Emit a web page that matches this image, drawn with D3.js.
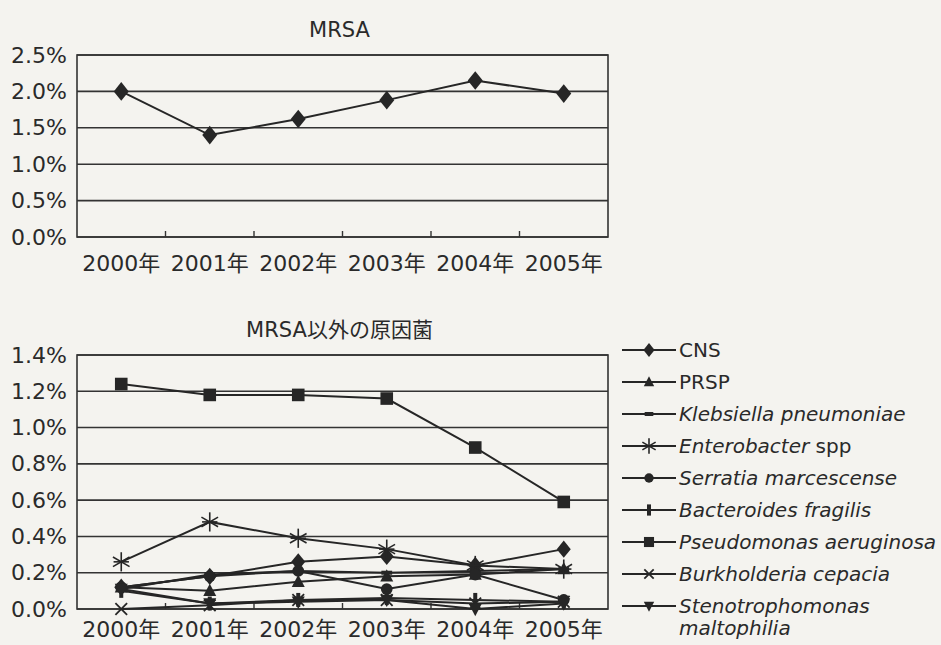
<!DOCTYPE html>
<html>
<head>
<meta charset="utf-8">
<script src="https://cdn.jsdelivr.net/npm/d3@7"></script>
<style>
  body { margin: 0; background: #f4f3ef; }
  text { font-family: "DejaVu Sans", "Noto Sans CJK JP", sans-serif; fill: #2a2a2a; }
</style>
</head>
<body>
<div id="chart"></div>
<script>
// categories
const years = ["2000年", "2001年", "2002年", "2003年", "2004年", "2005年"];

// MRSA (%)
const mrsa = [2.00, 1.40, 1.62, 1.88, 2.15, 1.97];
const mrsaTicks = [0, 0.5, 1.0, 1.5, 2.0, 2.5];

// other pathogens (%)
const cns          = [0.12, 0.18, 0.26, 0.29, 0.24, 0.33];
const prsp         = [0.12, 0.10, 0.15, 0.18, 0.19, 0.22];
const klebsiella   = [0.11, 0.19, 0.21, 0.20, 0.21, 0.22];
const enterobacter = [0.26, 0.48, 0.39, 0.33, 0.24, 0.22];
const serratia     = [0.12, 0.18, 0.21, 0.11, 0.19, 0.05];
const bacteroides  = [0.10, 0.03, 0.05, 0.06, 0.05, 0.04];
const pseudomonas  = [1.24, 1.18, 1.18, 1.16, 0.89, 0.59];
const burkholderia = [0.00, 0.02, 0.05, 0.05, 0.03, 0.04];
const steno        = [0.11, 0.03, 0.04, 0.05, 0.00, 0.03];
const otherTicks = [0, 0.2, 0.4, 0.6, 0.8, 1.0, 1.2, 1.4];

// legend labels: [text, italic?]
const legendLabels = [
    [["CNS", false]],
    [["PRSP", false]],
    [["Klebsiella pneumoniae", true]],
    [["Enterobacter", true], [" spp", false]],
    [["Serratia marcescense", true]],
    [["Bacteroides fragilis", true]],
    [["Pseudomonas aeruginosa", true]],
    [["Burkholderia cepacia", true]],
    [["Stenotrophomonas", true]]
];

const W = 941, H = 645;
const ink = "#262626";

const svg = d3.select("#chart").append("svg")
    .attr("width", W)
    .attr("height", H);

// marker shapes, centred on 0,0
function marker(g, type, s) {
    if (type === "diamond") {
        g.append("path").attr("d", `M0,${-s*0.62}L${s*0.5},0L0,${s*0.62}L${-s*0.5},0Z`).attr("fill", ink);
    } else if (type === "triangle") {
        g.append("path").attr("d", `M0,${-s*0.55}L${s*0.5},${s*0.4}L${-s*0.5},${s*0.4}Z`).attr("fill", ink);
    } else if (type === "dash") {
        g.append("rect").attr("x", -s*0.45).attr("y", -2).attr("width", s*0.9).attr("height", 4).attr("fill", ink);
    } else if (type === "asterisk") {
        const r = s * 0.6;
        [0, 60, 120].forEach(a => {
            const dx = Math.sin(a * Math.PI / 180) * r, dy = Math.cos(a * Math.PI / 180) * r;
            g.append("line").attr("x1", -dx).attr("y1", -dy).attr("x2", dx).attr("y2", dy)
                .attr("stroke", ink).attr("stroke-width", 1.6);
        });
        g.append("line").attr("x1", -r*0.8).attr("x2", r*0.8).attr("stroke", ink).attr("stroke-width", 1.6);
    } else if (type === "circle") {
        g.append("circle").attr("r", s*0.45).attr("fill", ink);
    } else if (type === "bar") {
        g.append("rect").attr("x", -2).attr("y", -s*0.5).attr("width", 4).attr("height", s).attr("fill", ink);
    } else if (type === "square") {
        g.append("rect").attr("x", -s*0.45).attr("y", -s*0.45).attr("width", s*0.9).attr("height", s*0.9)
            .attr("fill", ink);
    } else if (type === "x") {
        const r = s * 0.45;
        g.append("path").attr("d", `M${-r},${-r}L${r},${r}M${-r},${r}L${r},${-r}`)
            .attr("stroke", ink).attr("stroke-width", 1.8);
    } else if (type === "down") {
        g.append("path").attr("d", `M0,${s*0.55}L${s*0.5},${-s*0.4}L${-s*0.5},${-s*0.4}Z`).attr("fill", ink);
    }
}

// draw one framed line chart
function drawChart(cfg) {
    const x = d3.scaleBand().domain(years).range([cfg.left, cfg.right]);
    const y = d3.scaleLinear().domain(cfg.domain).range([cfg.bottom, cfg.top]);
    const cx = d => x(d) + x.bandwidth() / 2;

    // title
    svg.append("text")
        .attr("x", (cfg.left + cfg.right) / 2 - 3)
        .attr("y", cfg.top - 18)
        .attr("text-anchor", "middle")
        .style("font-size", "21px")
        .text(cfg.title);

    // gridlines
    svg.append("g").selectAll("line")
        .data(cfg.ticks)
        .join("line")
        .attr("x1", cfg.left).attr("x2", cfg.right)
        .attr("y1", d => y(d)).attr("y2", d => y(d))
        .attr("stroke", "#333")
        .attr("stroke-width", 1.6);

    // frame
    svg.append("rect")
        .attr("x", cfg.left).attr("y", cfg.top)
        .attr("width", cfg.right - cfg.left).attr("height", cfg.bottom - cfg.top)
        .attr("fill", "none")
        .attr("stroke", "#333")
        .attr("stroke-width", 1.6);

    // y axis labels
    const yAxis = d3.axisLeft(y)
        .tickValues(cfg.ticks)
        .tickSize(0)
        .tickPadding(10);
    const ya = svg.append("g")
        .attr("transform", `translate(${cfg.left},0)`)
        .call(yAxis);
    ya.select(".domain").remove();
    ya.selectAll("text").text(d => d3.format(".1f")(d) + "%")
        .style("font-size", "22px")
        .attr("fill", "#2a2a2a");

    // x axis labels + inner ticks between categories
    const xa = svg.append("g")
        .attr("transform", `translate(0,${cfg.bottom})`)
        .call(d3.axisBottom(x).tickSize(0).tickPadding(cfg.labelPad));
    xa.select(".domain").remove();
    xa.selectAll("text")
        .style("font-size", "22px")
        .attr("fill", "#2a2a2a");
    svg.append("g").selectAll("line")
        .data(years.slice(1))
        .join("line")
        .attr("x1", d => x(d)).attr("x2", d => x(d))
        .attr("y1", cfg.bottom).attr("y2", cfg.bottom - 6)
        .attr("stroke", "#333")
        .attr("stroke-width", 1.4);

    const line = d3.line()
        .x((d, i) => cx(years[i]))
        .y(d => y(d));

    cfg.series.forEach(s => {
        svg.append("path")
            .datum(s.values)
            .attr("fill", "none")
            .attr("stroke", ink)
            .attr("stroke-width", 2)
            .attr("d", line);
    });
    cfg.series.forEach(s => {
        s.values.forEach((v, i) => {
            const g = svg.append("g").attr("transform", `translate(${cx(years[i])},${y(v)})`);
            marker(g, s.marker, s.size);
        });
    });
}

drawChart({
    title: "MRSA",
    left: 77, right: 608, top: 55, bottom: 237,
    labelPad: 18,
    domain: [0, 2.5],
    ticks: mrsaTicks,
    series: [{ values: mrsa, marker: "diamond", size: 15 }]
});

const otherSeries = [
    { values: cns, marker: "diamond", size: 14 },
    { values: prsp, marker: "triangle", size: 13 },
    { values: klebsiella, marker: "dash", size: 12 },
    { values: enterobacter, marker: "asterisk", size: 16 },
    { values: serratia, marker: "circle", size: 13 },
    { values: bacteroides, marker: "bar", size: 14 },
    { values: pseudomonas, marker: "square", size: 14 },
    { values: burkholderia, marker: "x", size: 13 },
    { values: steno, marker: "down", size: 13 }
];

drawChart({
    title: "MRSA以外の原因菌",
    left: 77, right: 608, top: 355, bottom: 609,
    labelPad: 12,
    domain: [0, 1.4],
    ticks: otherTicks,
    series: otherSeries
});

// legend
const legend = svg.append("g").attr("transform", "translate(622,350)");
otherSeries.forEach((s, i) => {
    const row = legend.append("g").attr("transform", `translate(0,${i * 32})`);
    row.append("line")
        .attr("x1", 0).attr("x2", 54)
        .attr("stroke", ink)
        .attr("stroke-width", 2);
    const m = row.append("g").attr("transform", "translate(27,0)");
    marker(m, s.marker, s.size * 0.8);
    const t = row.append("text")
        .attr("x", 57)
        .attr("y", 7)
        .style("font-size", "20px");
    legendLabels[i].forEach(part => {
        t.append("tspan")
            .style("font-style", part[1] ? "italic" : "normal")
            .text(part[0]);
    });
});
legend.append("text")
    .attr("x", 57)
    .attr("y", 8 * 32 + 7 + 22)
    .style("font-size", "20px")
    .style("font-style", "italic")
    .text("maltophilia");
</script>
</body>
</html>
